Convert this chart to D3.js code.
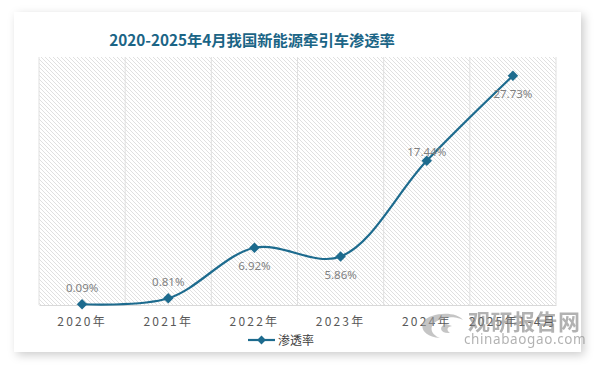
<!DOCTYPE html>
<html><head><meta charset="utf-8">
<script src="https://cdn.jsdelivr.net/npm/d3@7"></script>
<style>
html,body{margin:0;padding:0;background:#fff;}
svg{display:block;}
</style></head>
<body>
<svg id="chart" width="594" height="366"></svg>
<script>
const title = "2020-2025年4月我国新能源牵引车渗透率";
const categories = ["2020年","2021年","2022年","2023年","2024年","2025年1-4月"];
const values = [0.09, 0.81, 6.92, 5.86, 17.44, 27.73];
const labels = ["0.09%","0.81%","6.92%","5.86%","17.44%","27.73%"];
const labelPos = ["above","above","below","below","above","below"];
const seriesName = "渗透率";
const yDomain = [0, 30];

const W = 594, H = 366;
const svg = d3.select("#chart");
const defs = svg.append("defs");

const sh = defs.append("filter").attr("id","shadow").attr("x","-10%").attr("y","-10%").attr("width","120%").attr("height","125%");
sh.append("feDropShadow").attr("dx",3).attr("dy",3).attr("stdDeviation",5).attr("flood-color","#000").attr("flood-opacity",0.2);

const pat = defs.append("pattern").attr("id","hatch").attr("patternUnits","userSpaceOnUse")
  .attr("width",4).attr("height",4);
pat.append("rect").attr("width",4).attr("height",4).attr("fill","#fff");
pat.append("path").attr("d","M-1,3 l2,2 M0,0 l4,4 M3,-1 l2,2").attr("stroke","#dcdcdc").attr("stroke-width",0.9);

// card
svg.append("rect").attr("x",14).attr("y",12).attr("width",567).attr("height",340)
  .attr("fill","#fff").attr("filter","url(#shadow)");

const m = {left:39, right:556, top:57, bottom:305};
const x = d3.scaleBand().domain(categories).range([m.left, m.right]).paddingInner(0).paddingOuter(0);
const y = d3.scaleLinear().domain(yDomain).range([m.bottom, m.top]);

// plot background hatch
svg.append("rect").attr("x",m.left).attr("y",m.top).attr("width",m.right-m.left).attr("height",m.bottom-m.top)
  .attr("fill","url(#hatch)");

// vertical gridlines at band boundaries
const bounds = categories.map(c => x(c)).concat([m.right]);
svg.append("g").selectAll("line").data(bounds).join("line")
  .attr("x1",d=>d).attr("x2",d=>d).attr("y1",m.top).attr("y2",m.bottom)
  .attr("stroke","#e0e0e0").attr("stroke-width",1);

// x axis
const xAxis = svg.append("g").attr("transform",`translate(0,${m.bottom})`)
  .call(d3.axisBottom(x).tickSize(0).tickPadding(12));
xAxis.select(".domain").attr("stroke","#d9d9d9").attr("stroke-width",1.2);
xAxis.selectAll("text").attr("fill","#595959").attr("font-size","12px")
  .attr("font-family","'Noto Sans CJK SC', sans-serif").attr("letter-spacing","2.2px");

// title
svg.append("text").attr("x",252).attr("y",46).attr("text-anchor","middle")
  .attr("fill","#1b6586").attr("font-size","15.3px").attr("font-weight","bold")
  .attr("font-family","'Noto Sans CJK SC', sans-serif").text(title);

// line
const pts = categories.map((c,i)=>[x(c)+x.bandwidth()/2, y(values[i])]);
const line = d3.line().curve(d3.curveCatmullRom.alpha(0.5));
svg.append("path").attr("d",line(pts)).attr("fill","none").attr("stroke","#1d6b8e").attr("stroke-width",2.2);

const diamond = d3.symbol().type(d3.symbolDiamond2).size(70);
svg.append("g").selectAll("path").data(pts).join("path")
  .attr("transform",d=>`translate(${d[0]},${d[1]})`).attr("d",diamond).attr("fill","#1d6b8e");

// data labels
svg.append("g").selectAll("text").data(pts).join("text")
  .attr("x",d=>d[0]).attr("y",(d,i)=> labelPos[i]==="above" ? d[1]-(i===4?5:12) : d[1]+22)
  .attr("text-anchor","middle").attr("fill","#7f7f7f").attr("font-size","11.5px")
  .attr("font-family","'Noto Sans', 'Noto Sans CJK SC', sans-serif")
  .text((d,i)=>labels[i]);

// legend
const lg = svg.append("g").attr("transform","translate(248,340)");
lg.append("line").attr("x1",0).attr("x2",27).attr("y1",0).attr("y2",0).attr("stroke","#1d6b8e").attr("stroke-width",2.2);
lg.append("path").attr("transform","translate(13.5,0)").attr("d",d3.symbol().type(d3.symbolDiamond2).size(50)).attr("fill","#1d6b8e");
lg.append("text").attr("x",30).attr("y",4.5).attr("fill","#404040").attr("font-size","12px")
  .attr("font-family","'Noto Sans CJK SC', sans-serif").text(seriesName);

// watermark
const wm = svg.append("g").attr("opacity",0.6);
wm.append("path").attr("d","M432,316 C418,320 418,336 440,338 C428,333 428,322 445,318 C452,316 460,318 463,320 C458,313 442,312 432,316 Z")
  .attr("fill","#a0a0a0");
wm.append("path").attr("d","M446,324 C438,326 440,334 450,333 C446,330 447,327 452,326 Z").attr("fill","#a0a0a0");
wm.append("text").attr("x",468).attr("y",330).attr("fill","#808080").attr("font-size","22px").attr("font-weight","bold")
  .attr("font-family","'Noto Sans CJK SC', sans-serif").attr("letter-spacing","0.5px").text("观研报告网");
wm.append("text").attr("x",464).attr("y",344).attr("fill","#808080").attr("font-size","13.5px")
  .attr("font-family","'Noto Sans', sans-serif").attr("letter-spacing","0.6px").text("chinabaogao.com");
</script>
</body></html>
